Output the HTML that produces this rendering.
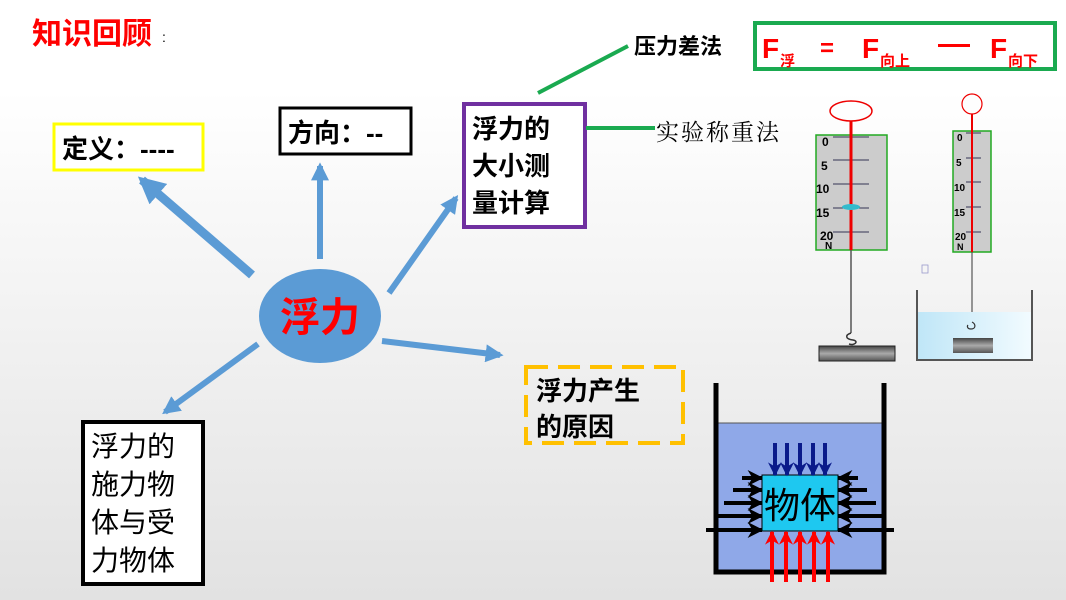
<!DOCTYPE html>
<html><head><meta charset="utf-8"><style>
body{margin:0}
svg{display:block}
text{font-family:"Liberation Sans","Noto Sans CJK SC",sans-serif}
</style></head><body>
<svg width="1066" height="600" viewBox="0 0 1066 600" xmlns="http://www.w3.org/2000/svg">
<defs>
<linearGradient id="bg" x1="0" y1="0" x2="0" y2="1"><stop offset="0" stop-color="#fff"/><stop offset="0.15" stop-color="#fff"/><stop offset="1" stop-color="#e2e2e2"/></linearGradient>
<linearGradient id="blk" x1="0" y1="0" x2="0" y2="1"><stop offset="0" stop-color="#444"/><stop offset="0.5" stop-color="#aaa"/><stop offset="1" stop-color="#555"/></linearGradient>
<linearGradient id="wat" x1="0" y1="0" x2="1" y2="0"><stop offset="0" stop-color="#bfe6f7"/><stop offset="1" stop-color="#f2fbff"/></linearGradient>
<marker id="ah" viewBox="0 0 10 10" refX="8" refY="5" markerWidth="3" markerHeight="3" orient="auto"><path d="M0,0L10,5L0,10z" fill="#5b9bd5"/></marker>
<marker id="ak" viewBox="0 0 10 10" refX="9" refY="5" markerWidth="4" markerHeight="4" orient="auto"><path d="M0,0L10,5L0,10L3,5z" fill="#000"/></marker>
<marker id="ab" viewBox="0 0 10 10" refX="9" refY="5" markerWidth="4" markerHeight="3.5" orient="auto"><path d="M0,0L10,5L0,10L3,5z" fill="#0a1a8a"/></marker>
<marker id="ar" viewBox="0 0 10 10" refX="9" refY="5" markerWidth="4" markerHeight="3.5" orient="auto"><path d="M0,0L10,5L0,10L3,5z" fill="#f00"/></marker>
</defs>
<rect width="1066" height="600" fill="url(#bg)"/>
<text x="32" y="44" font-size="30" font-weight="bold" fill="#f00">知识回顾</text><text x="162" y="42" font-size="14">:</text>

<g stroke="#5b9bd5" fill="none">
<line x1="252" y1="275" x2="142" y2="180" stroke-width="9" marker-end="url(#ah)"/>
<line x1="320" y1="259" x2="320" y2="166" stroke-width="6" marker-end="url(#ah)"/>
<line x1="389" y1="293" x2="456" y2="198" stroke-width="6" marker-end="url(#ah)"/>
<line x1="382" y1="341" x2="500" y2="355" stroke-width="6" marker-end="url(#ah)"/>
<line x1="258" y1="344" x2="165" y2="412" stroke-width="6" marker-end="url(#ah)"/>
</g>
<ellipse cx="320" cy="316" rx="61" ry="47" fill="#5b9bd5"/>
<text x="320" y="331" font-size="40" font-weight="bold" fill="#f00" text-anchor="middle">浮力</text>

<rect x="54" y="124" width="149" height="46" fill="#fff" stroke="#ffff00" stroke-width="3"/>
<text x="62" y="158" font-size="26" font-weight="bold">定义：----</text>
<rect x="280" y="108" width="131" height="46" fill="#fff" stroke="#000" stroke-width="3"/>
<text x="288" y="142" font-size="26" font-weight="bold">方向：--</text>
<rect x="464" y="104" width="121" height="123" fill="#fff" stroke="#7030a0" stroke-width="4"/>
<text font-size="26" font-weight="bold"><tspan x="472" y="138">浮力的</tspan><tspan x="472" y="175">大小测</tspan><tspan x="472" y="212">量计算</tspan></text>
<rect x="526" y="367" width="157" height="76" fill="none" stroke="#ffc000" stroke-width="4" stroke-dasharray="22,10"/>
<text font-size="26" font-weight="bold"><tspan x="536" y="400">浮力产生</tspan><tspan x="536" y="436">的原因</tspan></text>
<rect x="83" y="422" width="120" height="162" fill="#fff" stroke="#000" stroke-width="4"/>
<text font-size="28"><tspan x="91" y="456">浮力的</tspan><tspan x="91" y="494">施力物</tspan><tspan x="91" y="532">体与受</tspan><tspan x="91" y="570">力物体</tspan></text>

<line x1="538" y1="93" x2="628" y2="46" stroke="#1aaa50" stroke-width="4"/>
<text x="634" y="54" font-size="22" font-weight="bold">压力差法</text>
<rect x="755" y="23" width="300" height="46" fill="#fff" stroke="#1aaa50" stroke-width="4"/>
<g fill="#f00" font-weight="bold"><text x="762" y="58" font-size="28">F</text><text x="780" y="66" font-size="15">浮</text>
<text x="820" y="56" font-size="24">=</text>
<text x="862" y="58" font-size="28">F</text><text x="880" y="66" font-size="15">向上</text>
<rect x="938" y="44" width="32" height="3"/>
<text x="990" y="58" font-size="28">F</text><text x="1008" y="66" font-size="15">向下</text></g>
<line x1="586" y1="128" x2="655" y2="128" stroke="#1aaa50" stroke-width="4"/>
<text x="656" y="140" style="font-family:'Noto Serif CJK SC','Liberation Serif',serif;font-size:23px" letter-spacing="2">实验称重法</text>

<ellipse cx="851" cy="111" rx="21" ry="10" fill="none" stroke="#e00" stroke-width="1.5"/>
<rect x="816" y="135" width="71" height="115" fill="#ccc" stroke="#2a2" stroke-width="1.5"/>
<g stroke="#335" stroke-width="1"><line x1="833" y1="137" x2="869" y2="137"/><line x1="833" y1="160" x2="869" y2="160"/><line x1="833" y1="184" x2="869" y2="184"/><line x1="833" y1="208" x2="869" y2="208"/><line x1="833" y1="232" x2="869" y2="232"/></g>
<g font-size="12" font-weight="bold"><text x="822" y="146">0</text><text x="821" y="170">5</text><text x="816" y="193">10</text><text x="816" y="217">15</text><text x="820" y="240">20</text><text x="825" y="249" font-size="10">N</text></g>
<line x1="851" y1="121" x2="851" y2="250" stroke="#e00" stroke-width="3"/>
<ellipse cx="851" cy="207" rx="9" ry="3" fill="#3bc"/>
<line x1="851" y1="250" x2="851" y2="333" stroke="#555" stroke-width="1.5"/>
<path d="M851,333c-6,2 -6,6 2,7c6,1 2,6 -4,4" fill="none" stroke="#333" stroke-width="1.5"/>
<rect x="819" y="346" width="76" height="15" fill="url(#blk)" stroke="#222"/>
<circle cx="972" cy="104" r="10" fill="none" stroke="#e00" stroke-width="1.2"/>
<rect x="953" y="131" width="38" height="121" fill="#ccc" stroke="#2a2" stroke-width="1.5"/>
<g stroke="#335"><line x1="966" y1="133" x2="981" y2="133"/><line x1="966" y1="158" x2="981" y2="158"/><line x1="966" y1="182" x2="981" y2="182"/><line x1="966" y1="207" x2="981" y2="207"/><line x1="966" y1="232" x2="981" y2="232"/></g>
<g font-size="10" font-weight="bold"><text x="957" y="141">0</text><text x="956" y="166">5</text><text x="954" y="191">10</text><text x="954" y="216">15</text><text x="955" y="240">20</text><text x="957" y="250" font-size="9">N</text></g>
<line x1="972" y1="114" x2="972" y2="252" stroke="#e00" stroke-width="2"/>
<line x1="972" y1="252" x2="972" y2="322" stroke="#555" stroke-width="1.2"/>
<rect x="922" y="265" width="6" height="8" fill="none" stroke="#99c" stroke-width="0.8"/>
<rect x="917" y="312" width="115" height="47" fill="url(#wat)"/>
<path d="M917,290V360H1032V290" fill="none" stroke="#555" stroke-width="2"/>
<path d="M972,322c4,2 4,7 -1,7c-4,0 -4,-3 -3,-4" fill="none" stroke="#333" stroke-width="1.2"/>
<rect x="953" y="338" width="40" height="15" fill="url(#blk)"/>

<rect x="717" y="423" width="166" height="148" fill="#8fa8e8"/>
<line x1="717" y1="423" x2="883" y2="423" stroke="#555" stroke-width="1"/>
<path d="M716,383V572H884V383" fill="none" stroke="#000" stroke-width="5"/>
<g stroke="#000" stroke-width="4">
<line x1="742" y1="478" x2="762" y2="478" marker-end="url(#ak)"/><line x1="733" y1="490" x2="762" y2="490" marker-end="url(#ak)"/><line x1="724" y1="503" x2="762" y2="503" marker-end="url(#ak)"/><line x1="714" y1="516" x2="762" y2="516" marker-end="url(#ak)"/><line x1="706" y1="530" x2="762" y2="530" marker-end="url(#ak)"/>
<line x1="858" y1="478" x2="838" y2="478" marker-end="url(#ak)"/><line x1="867" y1="490" x2="838" y2="490" marker-end="url(#ak)"/><line x1="876" y1="503" x2="838" y2="503" marker-end="url(#ak)"/><line x1="886" y1="516" x2="838" y2="516" marker-end="url(#ak)"/><line x1="894" y1="530" x2="838" y2="530" marker-end="url(#ak)"/>
</g>
<rect x="762" y="475" width="76" height="56" fill="#1ec8f0" stroke="#000" stroke-width="1"/>
<text x="800" y="518" font-size="36" text-anchor="middle">物体</text>
<g stroke="#0a1a8a" stroke-width="4"><line x1="775" y1="443" x2="775" y2="475" marker-end="url(#ab)"/><line x1="787" y1="443" x2="787" y2="475" marker-end="url(#ab)"/><line x1="800" y1="443" x2="800" y2="475" marker-end="url(#ab)"/><line x1="813" y1="443" x2="813" y2="475" marker-end="url(#ab)"/><line x1="825" y1="443" x2="825" y2="475" marker-end="url(#ab)"/></g>
<g stroke="#f00" stroke-width="4"><line x1="772" y1="582" x2="772" y2="532" marker-end="url(#ar)"/><line x1="786" y1="582" x2="786" y2="532" marker-end="url(#ar)"/><line x1="800" y1="582" x2="800" y2="532" marker-end="url(#ar)"/><line x1="814" y1="582" x2="814" y2="532" marker-end="url(#ar)"/><line x1="828" y1="582" x2="828" y2="532" marker-end="url(#ar)"/></g>
</svg>
</body></html>
